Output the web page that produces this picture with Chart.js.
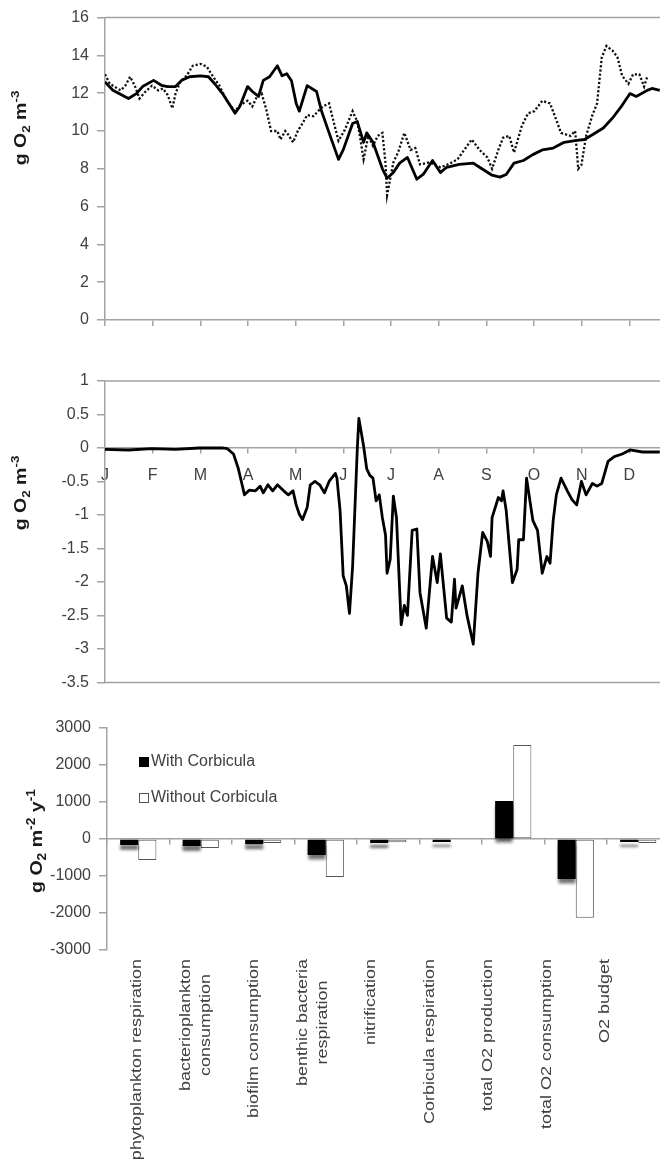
<!DOCTYPE html>
<html>
<head>
<meta charset="utf-8">
<script src="https://cdn.jsdelivr.net/npm/chart.js@4.4.1/dist/chart.umd.min.js"></script>
<style>
  html, body { margin: 0; padding: 0; background: #fff; overflow: hidden; }
  #wrap { position: relative; width: 660px; height: 1163px; overflow: hidden; }
  canvas { position: absolute; left: 0; }
</style>
</head>
<body>
<div id="wrap">
  <canvas id="conc" width="680" height="345" style="top:0"></canvas>
  <canvas id="diff" width="680" height="350" style="top:350px"></canvas>
  <canvas id="budget" width="680" height="463" style="top:700px"></canvas>
</div>
<script>
// ----- data -----
const monthLabels = ['J', 'F', 'M', 'A', 'M', 'J', 'J', 'A', 'S', 'O', 'N', 'D'];
const monthTicks = monthLabels.map((_, i) => i * 365 / 12);

// top panel, solid line (day of year / g O2 m-3)
const simDays = [0, 5, 15, 20, 24, 31, 36, 40, 45, 49, 54, 61, 66, 70, 75, 81, 83, 86, 91, 94,
  98, 101, 105, 110, 113, 116, 119, 122, 124, 129, 135, 138, 143, 149, 152, 158, 161, 165, 167, 171,
  174, 177, 180, 184, 188, 193, 199, 203, 209, 214, 218, 226, 235, 239, 247, 252, 256, 261, 267, 273,
  279, 286, 293, 301, 306, 311, 318, 324, 330, 335, 339, 346, 349, 354];
const simO2 = [12.6, 12.16, 11.72, 11.98, 12.35, 12.68, 12.42, 12.35, 12.35, 12.68, 12.87, 12.92, 12.87, 12.5, 11.98, 11.2, 10.94, 11.3, 12.35, 12.09,
  11.83, 12.68, 12.87, 13.45, 12.92, 13.03, 12.66, 11.46, 11.05, 12.4, 12.09, 11.1, 9.9, 8.5, 9.0, 10.4, 10.5, 9.4, 9.9, 9.4,
  8.7, 8.0, 7.5, 7.8, 8.3, 8.6, 7.45, 7.7, 8.44, 7.8, 8.08, 8.23, 8.3, 8.08, 7.66, 7.56, 7.7, 8.3, 8.44, 8.75,
  9.0, 9.1, 9.4, 9.5, 9.55, 9.8, 10.16, 10.7, 11.36, 11.98, 11.83, 12.15, 12.25, 12.15];

// top panel, dotted line
const obsDays = [0, 3, 10, 13, 16, 19, 22, 26, 30, 34, 37, 40, 43, 45, 48, 52, 56, 61, 65, 69,
  73, 78, 83, 86, 91, 94, 97, 100, 103, 106, 110, 112, 115, 117, 120, 123, 126, 129, 133, 136,
  139, 143, 145, 149, 153, 158, 161, 163, 165, 168, 171, 174, 177, 179, 180, 184, 187, 191, 195, 198,
  201, 207, 214, 218, 225, 228, 234, 239, 244, 247, 251, 254, 258, 261, 266, 270, 274, 279, 284, 288,
  291, 297, 300, 302, 304, 307, 311, 314, 317, 320, 324, 327, 330, 334, 337, 341, 344, 346];
const obsO2 = [13.0, 12.5, 12.15, 12.4, 12.87, 12.4, 11.72, 12.1, 12.4, 12.15, 12.25, 11.9, 11.2, 11.98, 12.6, 12.92, 13.45, 13.55, 13.4, 12.87,
  12.4, 11.56, 11.05, 11.36, 11.6, 11.3, 11.83, 11.98, 11.1, 10.0, 10.0, 9.55, 10.0, 9.8, 9.4, 10.0, 10.4, 10.84, 10.78, 11.05,
  11.3, 11.46, 10.78, 9.48, 10.06, 11.05, 10.5, 9.55, 8.5, 9.74, 9.22, 9.74, 9.9, 8.3, 6.6, 8.34, 8.86, 9.9, 9.0, 9.1,
  8.23, 8.34, 8.08, 8.2, 8.5, 8.86, 9.55, 9.0, 8.6, 8.0, 9.0, 9.64, 9.74, 8.86, 10.27, 10.94, 11.05, 11.6, 11.46, 10.58,
  9.9, 9.74, 10.0, 8.0, 8.2, 9.74, 10.84, 11.46, 13.9, 14.5, 14.24, 13.9, 12.92, 12.5, 13.0, 13.0, 12.35, 12.87];

// middle panel, difference
const diffDays = [0, 15, 30, 45, 60, 75, 78, 82, 85, 87, 89, 92, 96, 99, 101, 104, 107, 110, 114, 117,
  120, 122, 124, 126, 129, 131, 134, 137, 140, 143, 147, 148, 150, 152, 154, 156, 158, 161, 162, 165,
  167, 169, 171, 173, 175, 177, 179, 180, 182, 184, 186, 189, 191, 193, 196, 199, 201, 205, 209, 212,
  214, 218, 221, 223, 224, 228, 231, 235, 238, 241, 244, 246, 247, 251, 253, 254, 256, 260, 263, 264,
  267, 269, 273, 276, 279, 282, 284, 286, 288, 291, 295, 298, 301, 304, 307, 311, 314, 317, 321, 325,
  330, 335, 343, 354];
const diffO2 = [-0.02, -0.03, -0.01, -0.02, 0, 0, -0.01, -0.09, -0.3, -0.5, -0.7, -0.63, -0.64, -0.57, -0.67, -0.55, -0.64, -0.55, -0.64, -0.7,
  -0.64, -0.85, -0.99, -1.07, -0.89, -0.55, -0.5, -0.55, -0.67, -0.5, -0.38, -0.45, -0.93, -1.91, -2.06, -2.47, -1.77, -0.01, 0.44, 0.03,
  -0.31, -0.41, -0.45, -0.79, -0.7, -1.04, -1.3, -1.87, -1.66, -0.72, -1.04, -2.64, -2.35, -2.5, -1.23, -1.21, -2.16, -2.69, -1.62, -2.01,
  -1.58, -2.54, -2.6, -1.96, -2.39, -2.06, -2.5, -2.93, -1.87, -1.26, -1.4, -1.62, -1.04, -0.74, -0.79, -0.64, -0.93, -2.01, -1.81, -1.37,
  -1.37, -0.45, -1.08, -1.23, -1.87, -1.62, -1.72, -1.08, -0.7, -0.45, -0.64, -0.77, -0.85, -0.5, -0.7, -0.53, -0.57, -0.53, -0.2, -0.13,
  -0.09, -0.03, -0.06, -0.06];

// bottom panel, annual fluxes (g O2 m-2 y-1)
const processes = ['phytoplankton respiration', ['bacterioplankton', 'consumption'], 'biofilm consumption',
  ['benthic bacteria', 'respiration'], 'nitrification', 'Corbicula respiration', 'total O2 production',
  'total O2 consumption', 'O2 budget'];
const seriesNames = ['With Corbicula', 'Without Corbicula'];
const withFlux = [-160, -190, -140, -430, -110, -80, 1030, -1080, -80];
const withoutFlux = [-570, -240, -110, -1030, -90, 0, 2540, -2130, -110];

// ----- look -----
const AXIS = '#a3a3a3';
const TEXT = '#404040';
const FONT = '"Liberation Sans", Arial, Helvetica, sans-serif';
Chart.defaults.font.family = FONT;
Chart.defaults.font.size = 16;
Chart.defaults.color = TEXT;
Chart.defaults.animation = false;
Chart.defaults.plugins.legend.display = false;
Chart.defaults.plugins.tooltip.enabled = false;

const toPoints = (days, vals) => days.map((d, i) => ({ x: d, y: vals[i] }));

function yAxis(min, max, step, width) {
  return {
    min, max,
    ticks: { stepSize: step, padding: 8, callback: v => String(v) },
    grid: { drawOnChartArea: false, tickLength: 8, color: AXIS, lineWidth: 1.5 },
    border: { color: AXIS, width: 1.5 },
    afterFit: s => { s.width = width; }
  };
}

// rotated axis title with sub/superscripts
function yTitle(parts, cx, cy, size, stretch) {
  return {
    id: 'ytitle',
    afterDraw(chart) {
      const ctx = chart.ctx;
      const fontFor = p => 'bold ' + (p.shift ? Math.round(size * 0.7) : size) + 'px ' + FONT;
      ctx.save();
      ctx.fillStyle = '#1a1a1a';
      let total = 0;
      parts.forEach(p => { ctx.font = fontFor(p); total += ctx.measureText(p.text).width; });
      ctx.translate(cx, cy);
      ctx.rotate(-Math.PI / 2);
      ctx.scale(stretch, 1);
      let x = -total / 2;
      parts.forEach(p => {
        ctx.font = fontFor(p);
        ctx.fillText(p.text, x, p.shift || 0);
        x += ctx.measureText(p.text).width;
      });
      ctx.restore();
    }
  };
}

function frame(sides) {
  return {
    id: 'frame',
    afterDraw(chart) {
      const { ctx, chartArea: a } = chart;
      ctx.save();
      ctx.strokeStyle = AXIS;
      ctx.lineWidth = 1.5;
      ctx.beginPath();
      sides.forEach(s => { ctx.moveTo(a.left, a[s]); ctx.lineTo(a.right, a[s]); });
      ctx.stroke();
      ctx.restore();
    }
  };
}

const monthAxisTicks = s => { s.ticks = monthTicks.map(v => ({ value: v })); };
const o2Title = [{ text: 'g O' }, { text: '2', shift: 4 }, { text: ' m' }, { text: '-3', shift: -7 }];

// ----- top: O2 concentration -----
new Chart(document.getElementById('conc'), {
  type: 'line',
  data: {
    datasets: [
      { data: toPoints(simDays, simO2), borderColor: '#000', borderWidth: 2.8, pointRadius: 0, tension: 0, borderJoinStyle: 'round' },
      { data: toPoints(obsDays, obsO2), borderColor: '#111', borderWidth: 2.3, borderDash: [2.2, 2], pointRadius: 0, tension: 0 }
    ]
  },
  options: {
    responsive: false,
    devicePixelRatio: 1,
    layout: { padding: { top: 13, right: 3, left: 0, bottom: 0 } },
    scales: {
      x: {
        type: 'linear', min: 0, max: 365, bounds: 'data',
        afterBuildTicks: monthAxisTicks,
        ticks: { display: false },
        grid: { drawOnChartArea: false, tickLength: 6, color: AXIS, lineWidth: 1.5 },
        border: { color: AXIS, width: 1.5 },
        afterFit: s => { s.height = 25; }
      },
      y: yAxis(0, 16, 2, 105)
    }
  },
  plugins: [frame(['top']), yTitle(o2Title, 26, 128, 16, 1.22)]
});

// ----- middle: difference -----
new Chart(document.getElementById('diff'), {
  type: 'line',
  data: {
    datasets: [
      { data: toPoints(diffDays, diffO2), borderColor: '#000', borderWidth: 2.8, pointRadius: 0, tension: 0, borderJoinStyle: 'round' }
    ]
  },
  options: {
    responsive: false,
    devicePixelRatio: 1,
    layout: { padding: { top: 31, right: 3, left: 0, bottom: 10 } },
    scales: {
      x: {
        type: 'linear', min: 0, max: 365, bounds: 'data',
        position: { y: 0 },
        afterBuildTicks: monthAxisTicks,
        ticks: { callback: (v, i) => monthLabels[i], padding: 13, maxRotation: 0, autoSkip: false, color: TEXT },
        grid: { drawOnChartArea: false, tickLength: 5, color: AXIS, lineWidth: 1.5 },
        border: { color: AXIS, width: 1.5 }
      },
      y: yAxis(-3.5, 1, 0.5, 105)
    }
  },
  plugins: [frame(['top', 'bottom']), yTitle(o2Title, 26, 143, 16, 1.22)]
});

// ----- bottom: annual budget -----
const LABEL_STRETCH = 1.2;
const LABEL_MIN = -0.513, LABEL_MAX = 9.103;

const barShadow = {
  id: 'barShadow',
  beforeDatasetDraw(chart, args) {
    if (args.index !== 0) return;
    const ctx = chart.ctx;
    ctx.save();
    ctx.shadowColor = 'rgba(0,0,0,0.55)';
    ctx.shadowBlur = 3;
    ctx.shadowOffsetY = 5;
  },
  afterDatasetDraw(chart, args) {
    if (args.index === 0) chart.ctx.restore();
  }
};

const catLabels = {
  id: 'catLabels',
  afterDraw(chart) {
    const sc = chart.scales.xl, ctx = chart.ctx;
    const top = chart.chartArea.bottom + 9;
    ctx.save();
    ctx.font = '15px ' + FONT;
    ctx.fillStyle = TEXT;
    ctx.textAlign = 'center';
    ctx.textBaseline = 'middle';
    processes.forEach((lab, i) => {
      const lines = [].concat(lab);
      const w = Math.max(...lines.map(l => ctx.measureText(l).width)) * LABEL_STRETCH;
      ctx.save();
      ctx.translate(sc.getPixelForValue(i), top + w / 2);
      ctx.rotate(-Math.PI / 2);
      ctx.scale(LABEL_STRETCH, 1);
      lines.forEach((l, j) => ctx.fillText(l, 0, (j - (lines.length - 1) / 2) * 20));
      ctx.restore();
    });
    ctx.restore();
  }
};

const legendBox = {
  id: 'legendBox',
  afterDraw(chart) {
    const ctx = chart.ctx;
    ctx.save();
    ctx.font = '16px ' + FONT;
    ctx.textBaseline = 'middle';
    chart.data.datasets.forEach((ds, i) => {
      const y = 62 + i * 36;
      ctx.fillStyle = ds.backgroundColor;
      ctx.fillRect(139, y - 5, 10, 10);
      if (ds.borderWidth) {
        ctx.strokeStyle = ds.borderColor;
        ctx.lineWidth = 1;
        ctx.strokeRect(139.5, y - 4.5, 9, 9);
      }
      ctx.fillStyle = TEXT;
      ctx.fillText(ds.label, 151, y);
    });
    ctx.restore();
  }
};

new Chart(document.getElementById('budget'), {
  type: 'bar',
  data: {
    labels: processes,
    datasets: [
      { label: seriesNames[0], data: withFlux, backgroundColor: '#000', borderWidth: 0, barPercentage: 1, categoryPercentage: 0.58 },
      { label: seriesNames[1], data: withoutFlux, backgroundColor: '#fff', borderColor: '#555', borderWidth: 1, borderSkipped: false, barPercentage: 1, categoryPercentage: 0.58 }
    ]
  },
  options: {
    responsive: false,
    devicePixelRatio: 1,
    layout: { padding: { top: 28, right: 10.5, left: 0, bottom: 0 } },
    scales: {
      x: { type: 'category', display: false, offset: true },
      x0: {
        type: 'category', position: { y: 0 }, offset: true,
        ticks: { display: false },
        grid: { offset: true, drawOnChartArea: false, tickLength: 5, color: AXIS, lineWidth: 1.5 },
        border: { color: AXIS, width: 1.5 }
      },
      xl: {
        type: 'linear', position: 'bottom', min: LABEL_MIN, max: LABEL_MAX, bounds: 'data', offset: false,
        afterBuildTicks: s => {
          s.min = LABEL_MIN;
          s.max = LABEL_MAX;
          s.ticks = processes.map((_, i) => ({ value: i }));
        },
        ticks: { display: false },
        grid: { display: false, offset: false },
        border: { display: false },
        afterFit: s => { s.height = 213; }
      },
      y: yAxis(-3000, 3000, 1000, 107)
    }
  },
  plugins: [barShadow, legendBox, catLabels,
    yTitle([{ text: 'g O' }, { text: '2', shift: 4 }, { text: ' m' }, { text: '-2', shift: -7 }, { text: ' y' }, { text: '-1', shift: -7 }], 42, 141, 17, 1.15)]
});
</script>
</body>
</html>
